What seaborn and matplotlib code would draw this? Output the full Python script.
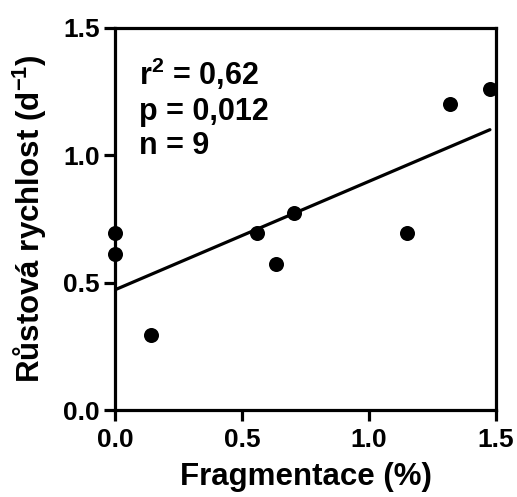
import matplotlib
matplotlib.use("Agg")
import matplotlib.pyplot as plt
import seaborn as sns
import pandas as pd

# Data
fragmentace = [0.0, 0.0, 0.14, 0.56, 0.634, 0.706, 1.148, 1.319, 1.476]
rust = [0.694, 0.612, 0.294, 0.694, 0.573, 0.775, 0.694, 1.201, 1.259]
stats_lines = ["r$^{2}$ = 0,62", "p = 0,012", "n = 9"]
x_ticks = [0.0, 0.5, 1.0, 1.5]
y_ticks = [0.0, 0.5, 1.0, 1.5]
x_label = "Fragmentace (%)"
y_label = "Růstová rychlost (d$^{-1}$)"

df = pd.DataFrame({"x": fragmentace, "y": rust})

sns.set_style("ticks")
plt.rcParams["font.family"] = ["Liberation Sans", "DejaVu Sans"]
plt.rcParams["font.weight"] = "bold"
plt.rcParams["text.color"] = "black"
plt.rcParams["axes.labelcolor"] = "black"
plt.rcParams["xtick.color"] = "black"
plt.rcParams["ytick.color"] = "black"
plt.rcParams["mathtext.fontset"] = "custom"
plt.rcParams["mathtext.rm"] = "Liberation Sans:bold"
plt.rcParams["mathtext.it"] = "Liberation Sans:bold"
plt.rcParams["mathtext.bf"] = "Liberation Sans:bold"
plt.rcParams["mathtext.default"] = "rm"

fig = plt.figure(figsize=(5.17, 4.97), dpi=100)
ax = fig.add_axes([0.2224, 0.175, 0.7370, 0.7687])

sns.regplot(data=df, x="x", y="y", ax=ax, ci=None, color="black",
            scatter_kws={"s": 117, "linewidths": 0, "zorder": 3,
                         "clip_on": False, "alpha": 1},
            line_kws={"linewidth": 2.3, "zorder": 2})

ax.set_xlim(0, 1.5)
ax.set_ylim(0, 1.5)
ax.set_xticks(x_ticks)
ax.set_yticks(y_ticks)
ax.set_xticklabels([f"{t:.1f}" for t in x_ticks])
ax.set_yticklabels([f"{t:.1f}" for t in y_ticks])

for s in ax.spines.values():
    s.set_linewidth(2.3)
    s.set_color("black")
    s.set_visible(True)
    s.set_zorder(4)

ax.tick_params(axis="both", direction="out", length=7.8, width=2.3,
               labelsize=19, pad=3, colors="black")
ax.tick_params(axis="x", pad=5)
for lab in ax.get_xticklabels() + ax.get_yticklabels():
    lab.set_fontweight("bold")

ax.set_xlabel(x_label, fontsize=22.5, fontweight="bold", labelpad=7)
ax.set_ylabel(y_label, fontsize=22.5, fontweight="bold", labelpad=10)

ys = [1.276, 1.139, 1.005]
for t, yv in zip(stats_lines, ys):
    ax.text(0.095, yv, t, fontsize=22, fontweight="bold", ha="left",
            va="baseline", color="black")

fig.savefig("out.png", dpi=100)
